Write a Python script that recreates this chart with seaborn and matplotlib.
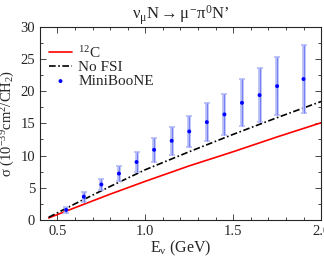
import numpy as np
import pandas as pd
import matplotlib
matplotlib.use("Agg")
import matplotlib.pyplot as plt
import seaborn as sns
from matplotlib.ticker import MultipleLocator

# curvas teoricas
e_curve = [0.45, 0.6, 0.8, 1.0, 1.25, 1.5, 1.75, 2.0]
sigma_c12 = [0.3, 1.9, 4.0, 6.0, 8.4, 10.6, 12.9, 15.1]
sigma_nofsi = [0.4, 2.5, 5.2, 7.8, 10.6, 13.3, 15.9, 18.4]

# datos MiniBooNE
e_data = [0.55, 0.65, 0.75, 0.85, 0.95, 1.05, 1.15, 1.25, 1.35, 1.45, 1.55, 1.65, 1.75, 1.9]
sigma_data = [1.55, 3.6, 5.5, 7.2, 9.0, 10.9, 12.3, 13.75, 15.2, 16.4, 18.2, 19.4, 20.8, 21.9]
sigma_err = [0.5, 0.8, 0.9, 1.15, 1.5, 1.9, 2.15, 2.45, 2.9, 3.2, 3.65, 4.15, 4.55, 5.3]

sns.set_style("ticks")
plt.rcParams['font.family'] = ['Liberation Serif', 'DejaVu Serif']
plt.rcParams['mathtext.fontset'] = 'custom'
plt.rcParams['mathtext.rm'] = 'Liberation Serif'
plt.rcParams['mathtext.it'] = 'Liberation Serif'
plt.rcParams['mathtext.bf'] = 'Liberation Serif:bold'

df_curve = pd.DataFrame({'E': e_curve, 'c12': sigma_c12, 'nofsi': sigma_nofsi})
df_data = pd.DataFrame({'E': e_data, 'sigma': sigma_data, 'err': sigma_err})

fig = plt.figure(figsize=(3.24, 2.59), dpi=100)
ax = fig.add_axes([0.123, 0.151, 0.868, 0.745])

sns.lineplot(data=df_curve, x='E', y='c12', color='#ff0000', lw=1.2, ax=ax, label='$^{12}$C')
sns.lineplot(data=df_curve, x='E', y='nofsi', color='black', lw=1.2, ax=ax, label='No FSI')
ax.lines[-1].set_dashes([4, 1.5, 1, 1.5])

ax.errorbar(df_data['E'], df_data['sigma'], yerr=df_data['err'], fmt='none',
            ecolor='#b4baf8', elinewidth=2.6, capsize=2.5, capthick=1.2, zorder=3)
ax.errorbar(df_data['E'], df_data['sigma'], yerr=df_data['err'], fmt='none',
            ecolor='#6a76f2', elinewidth=0.6, capsize=0, zorder=4)
sns.scatterplot(data=df_data, x='E', y='sigma', color='#0000ff', s=8, edgecolor='none',
                ax=ax, zorder=5, label='MiniBooNE')

ax.set_xlim(0.4, 2.0)
ax.set_ylim(0, 30)
ax.xaxis.set_major_locator(MultipleLocator(0.5))
ax.xaxis.set_minor_locator(MultipleLocator(0.1))
ax.yaxis.set_major_locator(MultipleLocator(5))
ax.yaxis.set_minor_locator(MultipleLocator(2.5))
ax.tick_params(which='both', direction='in', top=True, right=True, labelsize=10.5)
ax.tick_params(which='major', length=4, width=0.6)
ax.tick_params(which='minor', length=2.5, width=0.6)
for s in ax.spines.values():
    s.set_linewidth(0.8)

ax.set_xlabel(r'E$_\nu$ (GeV)', fontsize=11.5, labelpad=1)
ax.set_ylabel(r'σ (10$^{-39}$cm$^2$/CH$_2$)', fontsize=10.5, labelpad=2)
ax.set_title(r"$\nu_\mu$N$\rightarrow\mu^{-}\pi^{0}$N’", fontsize=12, pad=4)

ax.legend(loc='upper left', frameon=False, fontsize=11, handlelength=1.5,
          handletextpad=0.4, labelspacing=0.0, borderaxespad=0.2,
          bbox_to_anchor=(0.0, 0.955))

fig.savefig('out.png', dpi=100)
